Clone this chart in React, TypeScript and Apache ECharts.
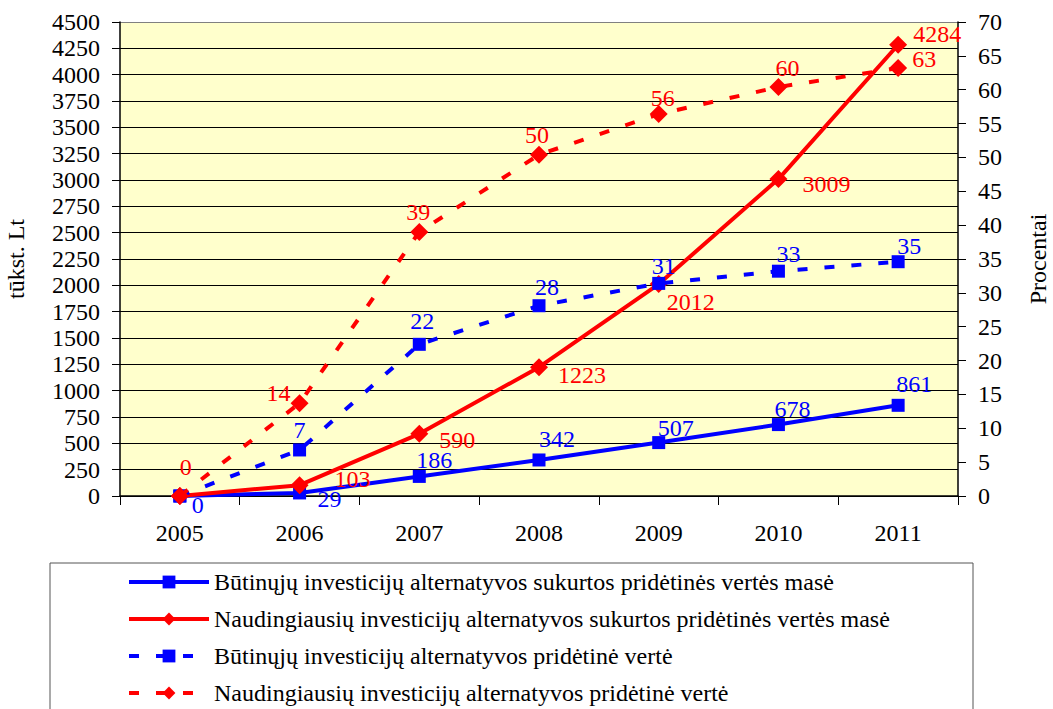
import React, { useEffect, useRef } from "react";
import * as echarts from "echarts";

const years = ["2005", "2006", "2007", "2008", "2009", "2010", "2011"];
const butinuMase = [0, 29, 186, 342, 507, 678, 861];
const naudingMase = [0, 103, 590, 1223, 2012, 3009, 4284];
const butinuProc = [0, 6.8, 22.4, 28.1, 31.4, 33.2, 34.6];
const naudingProc = [0, 13.7, 39.0, 50.4, 56.4, 60.4, 63.2];

const seriesNames = [
  "Būtinųjų investicijų alternatyvos sukurtos pridėtinės vertės masė",
  "Naudingiausių investicijų alternatyvos sukurtos pridėtinės vertės masė",
  "Būtinųjų investicijų alternatyvos pridėtinė vertė",
  "Naudingiausių investicijų alternatyvos pridėtinė vertė",
];

// label offsets from the marker centre (null = no label)
const offButinuMase: (number[] | null)[] = [[18, 9], [30, 6], [15, -16], [18, -21], [17, -15], [14, -16], [16, -21]];
const offNaudingMase: (number[] | null)[] = [null, [53, -6], [38, 6], [43, 8], [32, 18], [48, 5], [39, -11]];
const offButinuProc: (number[] | null)[] = [null, [0, -20], [3, -23], [8, -19], [5, -17], [10, -17], [11, -16]];
const offNaudingProc: (number[] | null)[] = [[6, -29], [-21, -10], [-1, -20], [-2, -20], [4, -16], [9, -19], [26, -9]];

const FONT = "Liberation Serif";
const BLUE = "#0000FF";
const RED = "#FF0000";

function buildData(values: number[], offs: (number[] | null)[], color: string) {
  return values.map((v, i) => {
    const o = offs[i];
    return {
      value: v,
      label: o
        ? {
            show: true,
            position: "inside",
            offset: o,
            align: "center",
            verticalAlign: "middle",
            color,
            fontSize: 24,
            fontFamily: FONT,
            formatter: (p: any) => String(Math.round(p.value)),
          }
        : { show: false },
    };
  });
}

export default function App() {
  const ref = useRef<HTMLDivElement>(null);
  useEffect(() => {
    if (!ref.current) return;
    const chart = echarts.init(ref.current, undefined, { renderer: "svg" });
    const splitColors = Array.from({ length: 19 }, (_, i) => (i === 18 ? "#808080" : "#000000"));
    chart.setOption({
      animation: false,
      backgroundColor: "#FFFFFF",
      textStyle: { fontFamily: FONT },
      grid: {
        left: 120,
        right: 95,
        top: 22,
        bottom: 213,
        show: true,
        backgroundColor: "#FFFFCC",
        borderWidth: 0,
        containLabel: false,
        outerBoundsMode: "none",
      },
      legend: {
        orient: "vertical",
        left: 127,
        top: 570,
        padding: 0,
        height: 139,
        itemWidth: 80,
        itemHeight: 16,
        itemGap: 13,
        lineStyle: { width: 4 },
        textStyle: { fontFamily: FONT, fontSize: 24, color: "#000", lineHeight: 24 },
        data: seriesNames,
      },
      graphic: [
        {
          type: "rect",
          shape: { x: 50, y: 563, width: 923, height: 170 },
          style: { fill: "none", stroke: "#555555", lineWidth: 1 },
          z: 100,
          silent: true,
        },
      ],
      xAxis: {
        type: "category",
        data: years,
        boundaryGap: true,
        axisLine: { lineStyle: { color: "#000", width: 1.5 } },
        axisTick: { show: true, interval: 0, length: 9, lineStyle: { color: "#000" } },
        axisLabel: { color: "#000", fontSize: 24, fontFamily: FONT, margin: 25, interval: 0 },
      },
      yAxis: [
        {
          type: "value",
          min: 0,
          max: 4500,
          interval: 250,
          name: "tūkst. Lt",
          nameLocation: "middle",
          nameGap: 92,
          nameTextStyle: { color: "#000", fontSize: 24, fontFamily: FONT },
          axisLine: { show: true, lineStyle: { color: "#000", width: 1.5 } },
          axisTick: { show: true, length: 8, lineStyle: { color: "#000" } },
          axisLabel: {
            color: "#000",
            fontSize: 24,
            fontFamily: FONT,
            margin: 20,
            formatter: (v: number) => String(v),
          },
          splitLine: { show: true, lineStyle: { color: splitColors, width: 1 } },
        },
        {
          type: "value",
          min: 0,
          max: 70,
          interval: 5,
          position: "right",
          name: "Procentai",
          nameLocation: "middle",
          nameGap: 68,
          nameTextStyle: { color: "#000", fontSize: 24, fontFamily: FONT },
          axisLine: { show: true, lineStyle: { color: "#000", width: 1.5 } },
          axisTick: { show: true, length: 8, lineStyle: { color: "#000" } },
          axisLabel: {
            color: "#000",
            fontSize: 24,
            fontFamily: FONT,
            margin: 20,
            formatter: (v: number) => String(v),
          },
          splitLine: { show: false },
        },
      ],
      series: [
        {
          name: seriesNames[0],
          type: "line",
          yAxisIndex: 0,
          data: buildData(butinuMase, offButinuMase, BLUE),
          symbol: "rect",
          symbolSize: 13,
          itemStyle: { color: BLUE },
          lineStyle: { color: BLUE, width: 4 },
          z: 2,
        },
        {
          name: seriesNames[1],
          type: "line",
          yAxisIndex: 0,
          data: buildData(naudingMase, offNaudingMase, RED),
          symbol: "diamond",
          symbolSize: 18,
          itemStyle: { color: RED },
          lineStyle: { color: RED, width: 4 },
          z: 3,
        },
        {
          name: seriesNames[2],
          type: "line",
          yAxisIndex: 1,
          data: buildData(butinuProc, offButinuProc, BLUE),
          symbol: "rect",
          symbolSize: 13,
          itemStyle: { color: BLUE },
          lineStyle: { color: BLUE, width: 4, type: [10, 17] },
          z: 4,
        },
        {
          name: seriesNames[3],
          type: "line",
          yAxisIndex: 1,
          data: buildData(naudingProc, offNaudingProc, RED),
          symbol: "diamond",
          symbolSize: 18,
          itemStyle: { color: RED },
          lineStyle: { color: RED, width: 4, type: [10, 17] },
          z: 5,
        },
      ],
    });
    return () => chart.dispose();
  }, []);
  return (
    <div
      ref={ref}
      style={{ position: "fixed", left: 0, top: 0, width: 1053, height: 709 }}
    />
  );
}
